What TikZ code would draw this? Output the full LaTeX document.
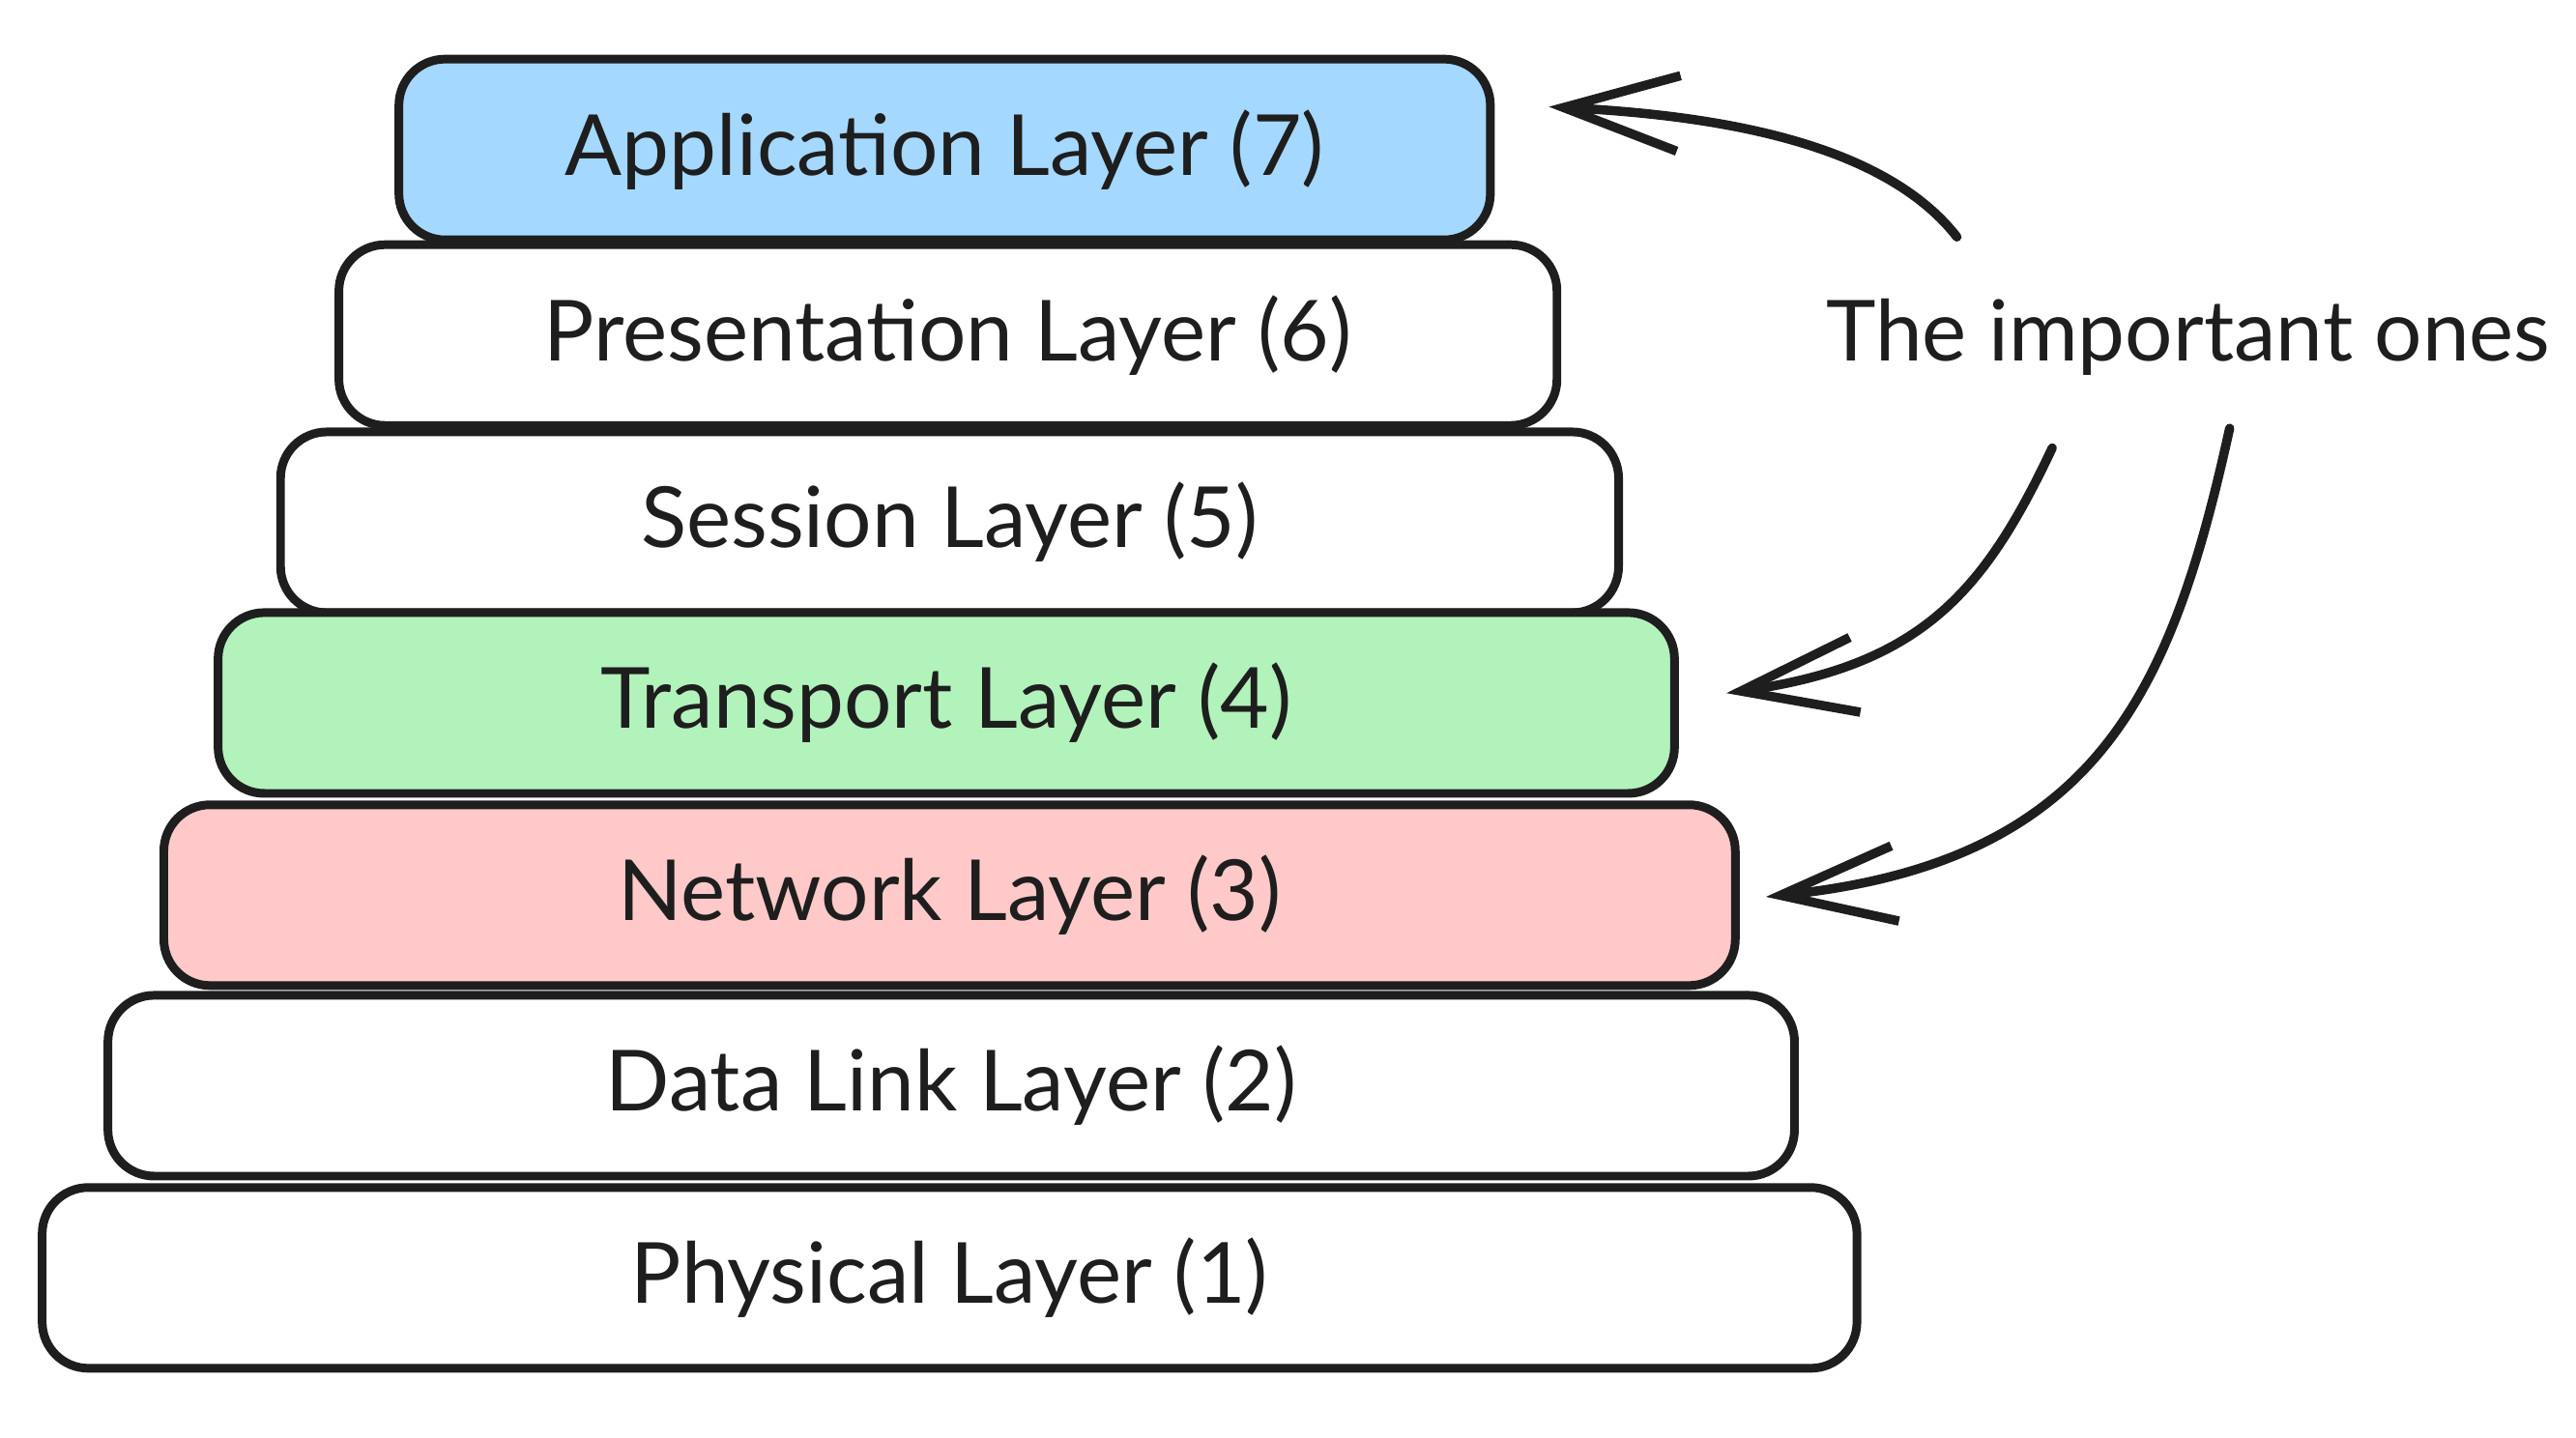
\documentclass[tikz,border=0pt]{standalone}
\usepackage{fontspec}
\setmainfont{Lato}
\usepackage{xcolor}
\usepackage{tikz}
\usetikzlibrary{arrows.meta}

\definecolor{ink}{HTML}{1E1E1E}
\definecolor{appblue}{HTML}{A5D8FF}
\definecolor{transgreen}{HTML}{B2F2BB}
\definecolor{netred}{HTML}{FFC9C9}

\begin{document}
\begin{tikzpicture}[x=0.01cm,y=-0.01cm,
  layer/.style={draw=ink, line width=1.5pt, rounded corners=8pt, minimum height=1.1cm,
    fill=white, text=ink, font=\fontsize{14.6}{16}\selectfont},
  pointer/.style={draw=ink, line width=1.6pt, line cap=round,
    -{Straight Barb[length=7mm, width=4.6mm, line width=1.6pt]}}]
\useasboundingbox (0,0) rectangle (1568,875);
% the stack, top to bottom
\node[layer, minimum width=6.64cm, fill=appblue] (app) at (575,91) {Application Layer (7)};
\node[layer, minimum width=7.41cm] (pres) at (577,204) {Presentation Layer (6)};
\node[layer, minimum width=8.14cm] (sess) at (578,318) {Session Layer (5)};
\node[layer, minimum width=8.86cm, fill=transgreen] (trans) at (576,428) {Transport Layer (4)};
\node[layer, minimum width=9.56cm, fill=netred] (net) at (578,545) {Network Layer (3)};
\node[layer, minimum width=10.26cm] (dll) at (579,661) {Data Link Layer (2)};
\node[layer, minimum width=11.04cm] (phys) at (578,778) {Physical Layer (1)};
% note on the right
\node[text=ink, font=\fontsize{14.6}{16}\selectfont] (imp) at (1332,205) {The important ones};
\draw[pointer] ([shift={(92,-25)}]imp.north west) .. controls (1145,85) and (1040,70) .. ([shift={(33,-26)}]app.east);
\draw[pointer] ([shift={(150,32)}]imp.south west) .. controls (1208,360) and (1170,405) .. ([shift={(29,-6)}]trans.east);
\draw[pointer] ([shift={(258,20)}]imp.south west) .. controls (1322,420) and (1278,525) .. ([shift={(16,1)}]net.east);
\end{tikzpicture}
\end{document}
